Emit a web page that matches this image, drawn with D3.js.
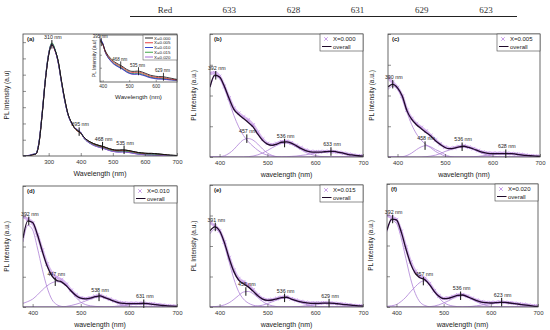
<!DOCTYPE html>
<html>
<head>
<meta charset="utf-8">
<script src="https://cdn.jsdelivr.net/npm/d3@7"></script>
<style>
  body { margin: 0; background: #fff; }
  svg { display: block; }
</style>
</head>
<body>
<svg id="chart" width="550" height="330"></svg>
<script>
// ---------- table header above the figure ----------
const headerCols = ['Red', '633', '628', '631', '629', '623']

// ---------- panel (a): raw spectra of the five samples ----------
const wlA = [220, 230, 240, 250, 260, 270, 280, 290, 300, 310, 320,
  330, 340, 350, 360, 370, 380, 390, 400, 410, 420, 430,
  440, 450, 460, 470, 480, 490, 500, 510, 520, 530, 540,
  550, 560, 570, 580, 590, 600, 610, 620, 630, 640, 650,
  660, 670, 680, 690, 700]
const seriesA = ['X=0.000', 'X=0.005', 'X=0.010', 'X=0.015', 'X=0.020']
const pl000 = [0, 0, 0.02, 0.08, 0.12, 0.8, 2.6, 4.7, 6.2, 6.85, 6.5,
  5.8, 4.6, 3.5, 2.6, 2.1, 1.75, 1.55, 1.42, 1.15, 0.98, 0.86,
  0.76, 0.69, 0.63, 0.58, 0.51, 0.44, 0.39, 0.36, 0.36, 0.37, 0.36,
  0.33, 0.29, 0.25, 0.21, 0.19, 0.17, 0.16, 0.16, 0.15, 0.13, 0.11,
  0.09, 0.07, 0.05, 0.04, 0.03]
const pl005 = [0, 0, 0.02, 0.07, 0.12, 0.82, 2.65, 4.75, 6.25, 6.82, 6.45,
  5.75, 4.55, 3.45, 2.58, 2.08, 1.73, 1.53, 1.4, 1.12, 0.94, 0.82,
  0.72, 0.65, 0.59, 0.54, 0.47, 0.4, 0.35, 0.32, 0.32, 0.33, 0.32,
  0.29, 0.25, 0.21, 0.17, 0.15, 0.13, 0.12, 0.12, 0.11, 0.09, 0.07,
  0.06, 0.04, 0.03, 0.02, 0.02]
const pl010 = [0, 0.01, 0.04, 0.1, 0.15, 0.9, 2.7, 4.8, 6.3, 6.9, 6.5,
  5.7, 4.5, 3.4, 2.55, 2.05, 1.75, 1.6, 1.45, 1.1, 0.9, 0.77,
  0.66, 0.59, 0.53, 0.48, 0.41, 0.34, 0.29, 0.26, 0.25, 0.26, 0.25,
  0.22, 0.19, 0.15, 0.12, 0.1, 0.08, 0.07, 0.07, 0.06, 0.05, 0.04,
  0.03, 0.02, 0.02, 0.01, 0.01]
const pl015 = [0, 0, 0.03, 0.09, 0.14, 0.85, 2.68, 4.8, 6.3, 6.95, 6.55,
  5.75, 4.55, 3.45, 2.58, 2.08, 1.74, 1.57, 1.43, 1.1, 0.91, 0.79,
  0.68, 0.61, 0.55, 0.5, 0.43, 0.36, 0.31, 0.28, 0.28, 0.29, 0.28,
  0.25, 0.21, 0.17, 0.14, 0.12, 0.1, 0.09, 0.09, 0.08, 0.07, 0.05,
  0.04, 0.03, 0.02, 0.02, 0.01]
const pl020 = [0, 0.01, 0.05, 0.1, 0.14, 0.88, 2.7, 4.78, 6.28, 6.88, 6.48,
  5.72, 4.52, 3.42, 2.56, 2.06, 1.76, 1.62, 1.46, 1.1, 0.9, 0.76,
  0.65, 0.58, 0.52, 0.47, 0.4, 0.33, 0.28, 0.25, 0.24, 0.25, 0.24,
  0.21, 0.18, 0.14, 0.11, 0.09, 0.07, 0.06, 0.06, 0.05, 0.04, 0.03,
  0.03, 0.02, 0.01, 0.01, 0.01]
const peaksA = [310, 395, 468, 535]
const peaksInset = [395, 468, 535, 629]

// ---------- panels (b)-(f): measured, overall fit, four components ----------
const wl = [380, 390, 400, 410, 420, 430, 440, 450, 460, 470, 480,
  490, 500, 510, 520, 530, 540, 550, 560, 570, 580, 590,
  600, 610, 620, 630, 640, 650, 660, 670, 680, 690, 700]

// (b) X=0.000
const measB = [2.72, 2.74, 2.62, 2.3, 1.92, 1.58, 1.42, 1.3, 1.2, 1.04, 0.8,
  0.58, 0.44, 0.4, 0.44, 0.5, 0.51, 0.46, 0.38, 0.3, 0.22, 0.18,
  0.17, 0.17, 0.18, 0.18, 0.17, 0.15, 0.12, 0.09, 0.06, 0.04, 0.03]
const fitB = [2.28, 2.66, 2.6, 2.3, 1.9, 1.55, 1.38, 1.25, 1.12, 0.98, 0.74,
  0.54, 0.42, 0.38, 0.42, 0.48, 0.49, 0.45, 0.37, 0.28, 0.21, 0.17,
  0.16, 0.16, 0.17, 0.18, 0.18, 0.15, 0.12, 0.08, 0.06, 0.04, 0.03]
const c1B = [2.25, 2.62, 2.55, 2.25, 1.8, 1.35, 0.98, 0.7, 0.5, 0.35, 0.22,
  0.12, 0.06, 0.03, 0.01, 0, 0, 0, 0, 0, 0, 0,
  0, 0, 0, 0, 0, 0, 0, 0, 0, 0, 0]
const c2B = [0, 0, 0.01, 0.04, 0.12, 0.25, 0.42, 0.56, 0.6, 0.55, 0.42,
  0.26, 0.13, 0.05, 0.01, 0, 0, 0, 0, 0, 0, 0,
  0, 0, 0, 0, 0, 0, 0, 0, 0, 0, 0]
const c3B = [0, 0, 0, 0, 0, 0, 0, 0, 0.01, 0.03, 0.07,
  0.13, 0.21, 0.3, 0.38, 0.44, 0.45, 0.41, 0.33, 0.24, 0.15, 0.09,
  0.05, 0.02, 0.01, 0, 0, 0, 0, 0, 0, 0, 0]
const c4B = [0, 0, 0, 0, 0, 0, 0, 0, 0, 0, 0,
  0, 0, 0, 0, 0, 0.01, 0.02, 0.03, 0.05, 0.07, 0.1,
  0.12, 0.14, 0.16, 0.17, 0.17, 0.15, 0.12, 0.09, 0.06, 0.04, 0.03]
const peaksB = [392, 457, 536, 633]

// (c) X=0.005
const measC = [2.58, 2.42, 2.26, 1.98, 1.52, 1.25, 1.08, 0.96, 0.84, 0.7, 0.55,
  0.42, 0.32, 0.28, 0.3, 0.34, 0.36, 0.32, 0.27, 0.21, 0.16, 0.13,
  0.12, 0.12, 0.12, 0.12, 0.11, 0.1, 0.08, 0.06, 0.04, 0.03, 0.02]
const fitC = [2.28, 2.36, 2.25, 1.98, 1.5, 1.22, 1.05, 0.92, 0.8, 0.68, 0.53,
  0.41, 0.31, 0.27, 0.29, 0.33, 0.35, 0.31, 0.26, 0.2, 0.15, 0.12,
  0.11, 0.11, 0.11, 0.11, 0.11, 0.09, 0.07, 0.05, 0.04, 0.03, 0.02]
const c1C = [2.2, 2.3, 2.2, 1.9, 1.45, 1.05, 0.75, 0.55, 0.4, 0.3, 0.18,
  0.1, 0.03, 0.01, 0, 0, 0, 0, 0, 0, 0, 0,
  0, 0, 0, 0, 0, 0, 0, 0, 0, 0, 0]
const c2C = [0, 0, 0, 0.01, 0.05, 0.13, 0.24, 0.33, 0.37, 0.33, 0.24,
  0.17, 0.08, 0.02, 0, 0, 0, 0, 0, 0, 0, 0,
  0, 0, 0, 0, 0, 0, 0, 0, 0, 0, 0]
const c3C = [0, 0, 0, 0, 0, 0, 0, 0, 0.01, 0.03, 0.06,
  0.11, 0.18, 0.23, 0.28, 0.32, 0.33, 0.3, 0.24, 0.17, 0.11, 0.06,
  0.03, 0.01, 0, 0, 0, 0, 0, 0, 0, 0, 0]
const c4C = [0, 0, 0, 0, 0, 0, 0, 0, 0, 0, 0,
  0, 0, 0, 0, 0, 0, 0, 0.01, 0.02, 0.04, 0.06,
  0.08, 0.09, 0.1, 0.1, 0.1, 0.09, 0.07, 0.05, 0.04, 0.03, 0.02]
const peaksC = [390, 458, 536, 628]

// (d) X=0.010
const measD = [2.98, 2.9, 2.78, 2.38, 1.88, 1.42, 1.12, 0.98, 0.9, 0.75, 0.55,
  0.4, 0.3, 0.28, 0.3, 0.35, 0.38, 0.32, 0.26, 0.2, 0.15, 0.13,
  0.12, 0.12, 0.12, 0.12, 0.11, 0.1, 0.08, 0.06, 0.04, 0.03, 0.02]
const fitD = [2.28, 2.85, 2.79, 2.39, 1.85, 1.36, 1.03, 0.88, 0.83, 0.7, 0.53,
  0.38, 0.29, 0.27, 0.29, 0.34, 0.37, 0.31, 0.25, 0.19, 0.14, 0.12,
  0.11, 0.11, 0.11, 0.12, 0.11, 0.09, 0.07, 0.05, 0.04, 0.03, 0.02]
const c1D = [2.15, 2.7, 2.55, 1.95, 1.25, 0.65, 0.25, 0.08, 0.02, 0, 0,
  0, 0, 0, 0, 0, 0, 0, 0, 0, 0, 0,
  0, 0, 0, 0, 0, 0, 0, 0, 0, 0, 0]
const c2D = [0.12, 0.18, 0.26, 0.4, 0.56, 0.7, 0.8, 0.84, 0.8, 0.7, 0.5,
  0.32, 0.16, 0.08, 0.04, 0.02, 0.01, 0, 0, 0, 0, 0,
  0, 0, 0, 0, 0, 0, 0, 0, 0, 0, 0]
const c3D = [0, 0, 0, 0, 0, 0, 0, 0, 0, 0.02, 0.05,
  0.09, 0.14, 0.2, 0.26, 0.31, 0.33, 0.3, 0.24, 0.17, 0.1, 0.06,
  0.03, 0.01, 0, 0, 0, 0, 0, 0, 0, 0, 0]
const c4D = [0, 0, 0, 0, 0, 0, 0, 0, 0, 0, 0,
  0, 0, 0, 0, 0, 0, 0, 0.01, 0.02, 0.04, 0.06,
  0.08, 0.09, 0.1, 0.1, 0.1, 0.09, 0.07, 0.05, 0.04, 0.03, 0.02]
const peaksD = [392, 447, 538, 631]

// (e) X=0.015
const measE = [2.77, 2.66, 2.5, 2.13, 1.62, 1.2, 0.93, 0.82, 0.72, 0.56, 0.39,
  0.27, 0.23, 0.24, 0.28, 0.32, 0.33, 0.27, 0.22, 0.18, 0.15, 0.13,
  0.13, 0.13, 0.14, 0.13, 0.12, 0.11, 0.09, 0.07, 0.05, 0.04, 0.03]
const fitE = [2.5, 2.63, 2.5, 2.12, 1.6, 1.16, 0.88, 0.76, 0.66, 0.52, 0.37,
  0.26, 0.22, 0.23, 0.27, 0.31, 0.32, 0.26, 0.21, 0.17, 0.14, 0.12,
  0.12, 0.12, 0.13, 0.13, 0.12, 0.1, 0.08, 0.07, 0.05, 0.04, 0.03]
const c1E = [2.4, 2.55, 2.45, 2.05, 1.48, 0.92, 0.5, 0.26, 0.13, 0.06, 0.03,
  0.01, 0, 0, 0, 0, 0, 0, 0, 0, 0, 0,
  0, 0, 0, 0, 0, 0, 0, 0, 0, 0, 0]
const c2E = [0, 0.01, 0.03, 0.07, 0.14, 0.25, 0.38, 0.49, 0.51, 0.44, 0.31,
  0.18, 0.09, 0.04, 0.01, 0, 0, 0, 0, 0, 0, 0,
  0, 0, 0, 0, 0, 0, 0, 0, 0, 0, 0]
const c3E = [0, 0, 0, 0, 0, 0, 0, 0, 0, 0.01, 0.03,
  0.06, 0.11, 0.17, 0.23, 0.28, 0.3, 0.26, 0.2, 0.14, 0.09, 0.05,
  0.03, 0.01, 0, 0, 0, 0, 0, 0, 0, 0, 0]
const c4E = [0, 0, 0, 0, 0, 0, 0, 0, 0, 0, 0,
  0, 0, 0, 0, 0, 0, 0, 0.01, 0.02, 0.04, 0.06,
  0.08, 0.1, 0.12, 0.12, 0.12, 0.1, 0.08, 0.06, 0.05, 0.03, 0.02]
const peaksE = [391, 455, 536, 629]

// (f) X=0.020
const measF = [2.98, 2.92, 2.84, 2.46, 1.94, 1.46, 1.16, 1.0, 0.93, 0.76, 0.53,
  0.36, 0.28, 0.29, 0.34, 0.39, 0.4, 0.35, 0.28, 0.22, 0.17, 0.15,
  0.14, 0.15, 0.16, 0.15, 0.14, 0.12, 0.1, 0.08, 0.06, 0.04, 0.03]
const fitF = [2.5, 2.86, 2.83, 2.45, 1.9, 1.41, 1.09, 0.95, 0.89, 0.73, 0.51,
  0.35, 0.27, 0.28, 0.33, 0.38, 0.39, 0.34, 0.27, 0.21, 0.16, 0.14,
  0.13, 0.14, 0.15, 0.15, 0.13, 0.11, 0.09, 0.07, 0.05, 0.03, 0.02]
const c1F = [2.45, 2.82, 2.72, 2.25, 1.58, 0.92, 0.44, 0.16, 0.05, 0.01, 0,
  0, 0, 0, 0, 0, 0, 0, 0, 0, 0, 0,
  0, 0, 0, 0, 0, 0, 0, 0, 0, 0, 0]
const c2F = [0.02, 0.04, 0.08, 0.18, 0.32, 0.5, 0.66, 0.8, 0.85, 0.74, 0.5,
  0.3, 0.15, 0.07, 0.03, 0.01, 0, 0, 0, 0, 0, 0,
  0, 0, 0, 0, 0, 0, 0, 0, 0, 0, 0]
const c3F = [0, 0, 0, 0, 0, 0, 0, 0, 0, 0.01, 0.03,
  0.07, 0.13, 0.2, 0.28, 0.34, 0.37, 0.33, 0.25, 0.17, 0.1, 0.05,
  0.02, 0.01, 0, 0, 0, 0, 0, 0, 0, 0, 0]
const c4F = [0, 0, 0, 0, 0, 0, 0, 0, 0, 0, 0,
  0, 0, 0, 0, 0, 0, 0.01, 0.02, 0.04, 0.06, 0.09,
  0.11, 0.13, 0.15, 0.15, 0.13, 0.11, 0.09, 0.07, 0.05, 0.03, 0.02]
const peaksF = [392, 457, 536, 623]

// ---------- layout & style ----------
const font = 'Liberation Sans, Arial, sans-serif'
const axisColor = '#444'
const markColor = '#c394e6'
const compColor = '#ad80d6'
const fitColor = '#1f0a2a'
const colorsA = ['#111111', '#e0282a', '#2233cc', '#2a9a35', '#9a5ccf']
const symX = d3.symbolX || d3.symbolTimes || d3.symbolCross

const svg = d3.select('#chart')

// header row with a rule under it
const hx = d3.scalePoint().domain(headerCols).range([165, 486])
svg.append('g').selectAll('text').data(headerCols).join('text')
  .attr('x', (d) => hx(d))
  .attr('y', 13)
  .attr('text-anchor', 'middle')
  .attr('font-family', 'Liberation Serif, Times New Roman, serif')
  .attr('font-size', 9)
  .attr('fill', '#333')
  .text((d) => d)
svg.append('line')
  .attr('x1', 130).attr('x2', 517).attr('y1', 16.5).attr('y2', 16.5)
  .attr('stroke', '#222').attr('stroke-width', 1)

// helpers
function frame(g, b) {
  g.append('rect')
    .attr('x', b.x0).attr('y', b.y0)
    .attr('width', b.x1 - b.x0).attr('height', b.y1 - b.y0)
    .attr('fill', 'none').attr('stroke', axisColor).attr('stroke-width', 0.8)
}

function axes(g, x, y, b, xt, yt, fs, pad) {
  g.append('g')
    .attr('transform', `translate(0,${b.y1})`)
    .call(d3.axisBottom(x).tickValues(xt).tickSizeInner(-3).tickSizeOuter(0).tickPadding(pad))
    .call((a) => {
      a.select('.domain').remove()
      a.selectAll('line').attr('stroke', axisColor).attr('stroke-width', 0.6)
      a.selectAll('text').attr('font-size', fs).attr('font-family', font).attr('fill', '#333')
    })
  g.append('g')
    .attr('transform', `translate(${b.x0},0)`)
    .call(d3.axisLeft(y).tickValues(yt).tickSizeInner(-3).tickSizeOuter(0).tickFormat(''))
    .call((a) => {
      a.select('.domain').remove()
      a.selectAll('line').attr('stroke', axisColor).attr('stroke-width', 0.6)
    })
}

function titles(g, b, xTitle, yTitle) {
  g.append('text')
    .attr('x', (b.x0 + b.x1) / 2).attr('y', b.y1 + 20)
    .attr('text-anchor', 'middle')
    .attr('font-family', font).attr('font-size', 7).attr('fill', '#222')
    .text(xTitle)
  g.append('text')
    .attr('transform', `translate(${b.x0 - 14},${(b.y0 + b.y1) / 2}) rotate(-90)`)
    .attr('text-anchor', 'middle')
    .attr('font-family', font).attr('font-size', 6.5).attr('fill', '#222')
    .text(yTitle)
}

function peakMark(g, x, y, nm, v, fs) {
  const px = x(nm)
  const py = y(v)
  g.append('line')
    .attr('x1', px).attr('x2', px).attr('y1', py - 4.5).attr('y2', py + 4)
    .attr('stroke', '#111').attr('stroke-width', 1)
  g.append('text')
    .attr('x', px + 1).attr('y', py - 5.5)
    .attr('text-anchor', 'middle')
    .attr('font-family', font).attr('font-size', fs).attr('fill', '#222')
    .text(`${nm} nm`)
}

// ---------- panel (a) ----------
function panelA(b) {
  const g = svg.append('g')
  const x = d3.scaleLinear().domain([220, 700]).range([b.x0, b.x1])
  const y = d3.scaleLinear().domain([0, 7.5]).range([b.y1, b.y0])
  const data = [pl000, pl005, pl010, pl015, pl020]
  const line = d3.line().x((d, i) => x(wlA[i])).y((d) => y(d)).curve(d3.curveMonotoneX)

  g.append('clipPath').attr('id', 'clip-a').append('rect')
    .attr('x', b.x0).attr('y', b.y0).attr('width', b.x1 - b.x0).attr('height', b.y1 - b.y0)
  const plot = g.append('g').attr('clip-path', 'url(#clip-a)')
  data.forEach((s, k) => {
    plot.append('path').attr('d', line(s))
      .attr('fill', 'none').attr('stroke', colorsA[k]).attr('stroke-width', 1)
  })
  plot.append('path').attr('d', line(pl000))
    .attr('fill', 'none').attr('stroke', colorsA[0]).attr('stroke-width', 1)

  const at = d3.scaleLinear().domain(wlA).range(pl000)
  peaksA.forEach((nm) => peakMark(g, x, y, nm, at(nm), 5.3))

  frame(g, b)
  axes(g, x, y, b, [300, 400, 500, 600, 700], d3.range(0, 8), 6, 4)
  titles(g, b, 'Wavelength (nm)', 'PL Intensity (a.u)')
  g.append('text').attr('x', b.x0 + 4).attr('y', b.y0 + 7)
    .attr('font-family', font).attr('font-size', 6).attr('font-weight', 'bold').attr('fill', '#222')
    .text('(a)')

  // inset
  const bi = { x0: 100, x1: 177, y0: 35, y1: 82 }
  const xi = d3.scaleLinear().domain([390, 680]).range([bi.x0, bi.x1])
  const yi = d3.scaleLinear().domain([-0.05, 1.76]).range([bi.y1, bi.y0])
  const gi = svg.append('g')
  gi.append('rect').attr('x', bi.x0).attr('y', bi.y0)
    .attr('width', bi.x1 - bi.x0).attr('height', bi.y1 - bi.y0).attr('fill', '#fff')
  gi.append('clipPath').attr('id', 'clip-in').append('rect')
    .attr('x', bi.x0).attr('y', bi.y0).attr('width', bi.x1 - bi.x0).attr('height', bi.y1 - bi.y0)
  const lineI = d3.line().x((d, i) => xi(wlA[i])).y((d) => yi(d)).curve(d3.curveMonotoneX)
  const pi = gi.append('g').attr('clip-path', 'url(#clip-in)')
  data.slice().reverse().forEach((s, k) => {
    pi.append('path').attr('d', lineI(s))
      .attr('fill', 'none').attr('stroke', colorsA[4 - k]).attr('stroke-width', 0.8)
  })
  peaksInset.forEach((nm) => {
    const px = xi(nm)
    const py = yi(at(nm))
    gi.append('line').attr('x1', px).attr('x2', px).attr('y1', py - 4).attr('y2', py + 4)
      .attr('stroke', '#111').attr('stroke-width', 0.8)
    gi.append('text').attr('x', px - 1).attr('y', py - 4.5)
      .attr('text-anchor', 'middle')
      .attr('font-family', font).attr('font-size', 4.5).attr('fill', '#222')
      .text(`${nm} nm`)
  })
  frame(gi, bi)
  gi.append('g')
    .attr('transform', `translate(0,${bi.y1})`)
    .call(d3.axisBottom(xi).tickValues([400, 500, 600]).tickSizeInner(-2).tickSizeOuter(0).tickPadding(3))
    .call((a) => {
      a.select('.domain').remove()
      a.selectAll('line').attr('stroke', axisColor).attr('stroke-width', 0.5)
      a.selectAll('text').attr('font-size', 4.8).attr('font-family', font).attr('fill', '#333')
    })
  gi.append('g')
    .attr('transform', `translate(${bi.x0},0)`)
    .call(d3.axisLeft(yi).tickValues([0, 0.5, 1, 1.5]).tickSizeInner(-2).tickSizeOuter(0).tickFormat(''))
    .call((a) => {
      a.select('.domain').remove()
      a.selectAll('line').attr('stroke', axisColor).attr('stroke-width', 0.5)
    })
  gi.append('text')
    .attr('x', (bi.x0 + bi.x1) / 2).attr('y', bi.y1 + 17)
    .attr('text-anchor', 'middle')
    .attr('font-family', font).attr('font-size', 6.2).attr('fill', '#222')
    .text('Wavelength (nm)')
  gi.append('text')
    .attr('transform', `translate(${bi.x0 - 4},${(bi.y0 + bi.y1) / 2}) rotate(-90)`)
    .attr('text-anchor', 'middle')
    .attr('font-family', font).attr('font-size', 5).attr('fill', '#222')
    .text('PL Intensity (a.u)')

  // inset legend
  const lg = gi.append('g').attr('transform', `translate(${bi.x1 - 34},${bi.y0})`)
  lg.append('rect').attr('width', 34).attr('height', 25)
    .attr('fill', '#fff').attr('stroke', axisColor).attr('stroke-width', 0.5)
  const ly = d3.scalePoint().domain(seriesA).range([3, 22])
  seriesA.forEach((name, k) => {
    lg.append('line').attr('x1', 2).attr('x2', 10).attr('y1', ly(name)).attr('y2', ly(name))
      .attr('stroke', colorsA[k]).attr('stroke-width', 0.9)
    lg.append('text').attr('x', 11).attr('y', ly(name) + 1.6)
      .attr('font-family', font).attr('font-size', 4.4).attr('fill', '#222')
      .text(name)
  })
}

// ---------- fitted panels (b)-(f) ----------
function fitPanel(p, b) {
  const g = svg.append('g')
  const x = d3.scaleLinear().domain([380, 700]).range([b.x0, b.x1])
  const y = d3.scaleLinear().domain([0, 4]).range([b.y1, b.y0])
  const line = d3.line().x((d, i) => x(wl[i])).y((d) => y(d)).curve(d3.curveMonotoneX)
  const clip = `clip-${p.tag}`

  g.append('clipPath').attr('id', clip).append('rect')
    .attr('x', b.x0).attr('y', b.y0).attr('width', b.x1 - b.x0).attr('height', b.y1 - b.y0)
  const plot = g.append('g').attr('clip-path', `url(#${clip})`)

  // measured points: a soft band plus x markers
  plot.append('path').attr('d', line(p.meas))
    .attr('fill', 'none').attr('stroke', markColor).attr('stroke-width', 3).attr('stroke-opacity', 0.65)
  p.comps.forEach((c) => {
    plot.append('path').attr('d', line(c))
      .attr('fill', 'none').attr('stroke', compColor).attr('stroke-width', 0.8)
  })
  plot.selectAll('path.mk').data(p.meas).join('path')
    .attr('class', 'mk')
    .attr('transform', (d, i) => `translate(${x(wl[i])},${y(d)})`)
    .attr('d', d3.symbol(symX, 10))
    .attr('fill', 'none').attr('stroke', markColor).attr('stroke-width', 0.8)
  plot.append('path').attr('d', line(p.fit))
    .attr('fill', 'none').attr('stroke', fitColor).attr('stroke-width', 1.3)

  // peak positions: first on the overall curve, the others on their component
  p.peaks.forEach((nm, k) => {
    const src = k === 0 ? p.fit : p.comps[k]
    const v = d3.scaleLinear().domain(wl).range(src)(nm)
    peakMark(g, x, y, nm, v, 5.3)
  })

  frame(g, b)
  axes(g, x, y, b, [400, 500, 600, 700], [0, 1, 2, 3, 4], 6, 4)
  titles(g, b, 'wavelength (nm)', 'PL Intensity (a.u.)')
  g.append('text').attr('x', b.x0 + 4).attr('y', b.y0 + 7)
    .attr('font-family', font).attr('font-size', 6).attr('font-weight', 'bold').attr('fill', '#222')
    .text(`(${p.tag})`)

  // legend
  const lg = g.append('g').attr('transform', `translate(${b.x1 - 43},${b.y0})`)
  lg.append('rect').attr('width', 43).attr('height', 17)
    .attr('fill', '#fff').attr('stroke', axisColor).attr('stroke-width', 0.6)
  lg.append('path').attr('transform', 'translate(6,5)')
    .attr('d', d3.symbol(symX, 10))
    .attr('fill', 'none').attr('stroke', markColor).attr('stroke-width', 0.9)
  lg.append('text').attr('x', 13).attr('y', 7.2)
    .attr('font-family', font).attr('font-size', 6).attr('fill', '#222')
    .text(p.name)
  lg.append('line').attr('x1', 2).attr('x2', 11.5).attr('y1', 12.5).attr('y2', 12.5)
    .attr('stroke', fitColor).attr('stroke-width', 1)
  lg.append('text').attr('x', 13).attr('y', 14.7)
    .attr('font-family', font).attr('font-size', 6).attr('fill', '#222')
    .text('overall')
}

panelA({ x0: 23, x1: 177, y0: 34, y1: 156 })

const fitPanels = [
  { tag: 'b', name: 'X=0.000', meas: measB, fit: fitB, comps: [c1B, c2B, c3B, c4B], peaks: peaksB, box: { x0: 210, x1: 363, y0: 34, y1: 157 } },
  { tag: 'c', name: 'X=0.005', meas: measC, fit: fitC, comps: [c1C, c2C, c3C, c4C], peaks: peaksC, box: { x0: 388, x1: 540, y0: 34, y1: 157 } },
  { tag: 'd', name: 'X=0.010', meas: measD, fit: fitD, comps: [c1D, c2D, c3D, c4D], peaks: peaksD, box: { x0: 23, x1: 177, y0: 186, y1: 307 } },
  { tag: 'e', name: 'X=0.015', meas: measE, fit: fitE, comps: [c1E, c2E, c3E, c4E], peaks: peaksE, box: { x0: 210, x1: 363, y0: 185, y1: 307 } },
  { tag: 'f', name: 'X=0.020', meas: measF, fit: fitF, comps: [c1F, c2F, c3F, c4F], peaks: peaksF, box: { x0: 387, x1: 538, y0: 184, y1: 307 } }
]
fitPanels.forEach((p) => fitPanel(p, p.box))
</script>
</body>
</html>
